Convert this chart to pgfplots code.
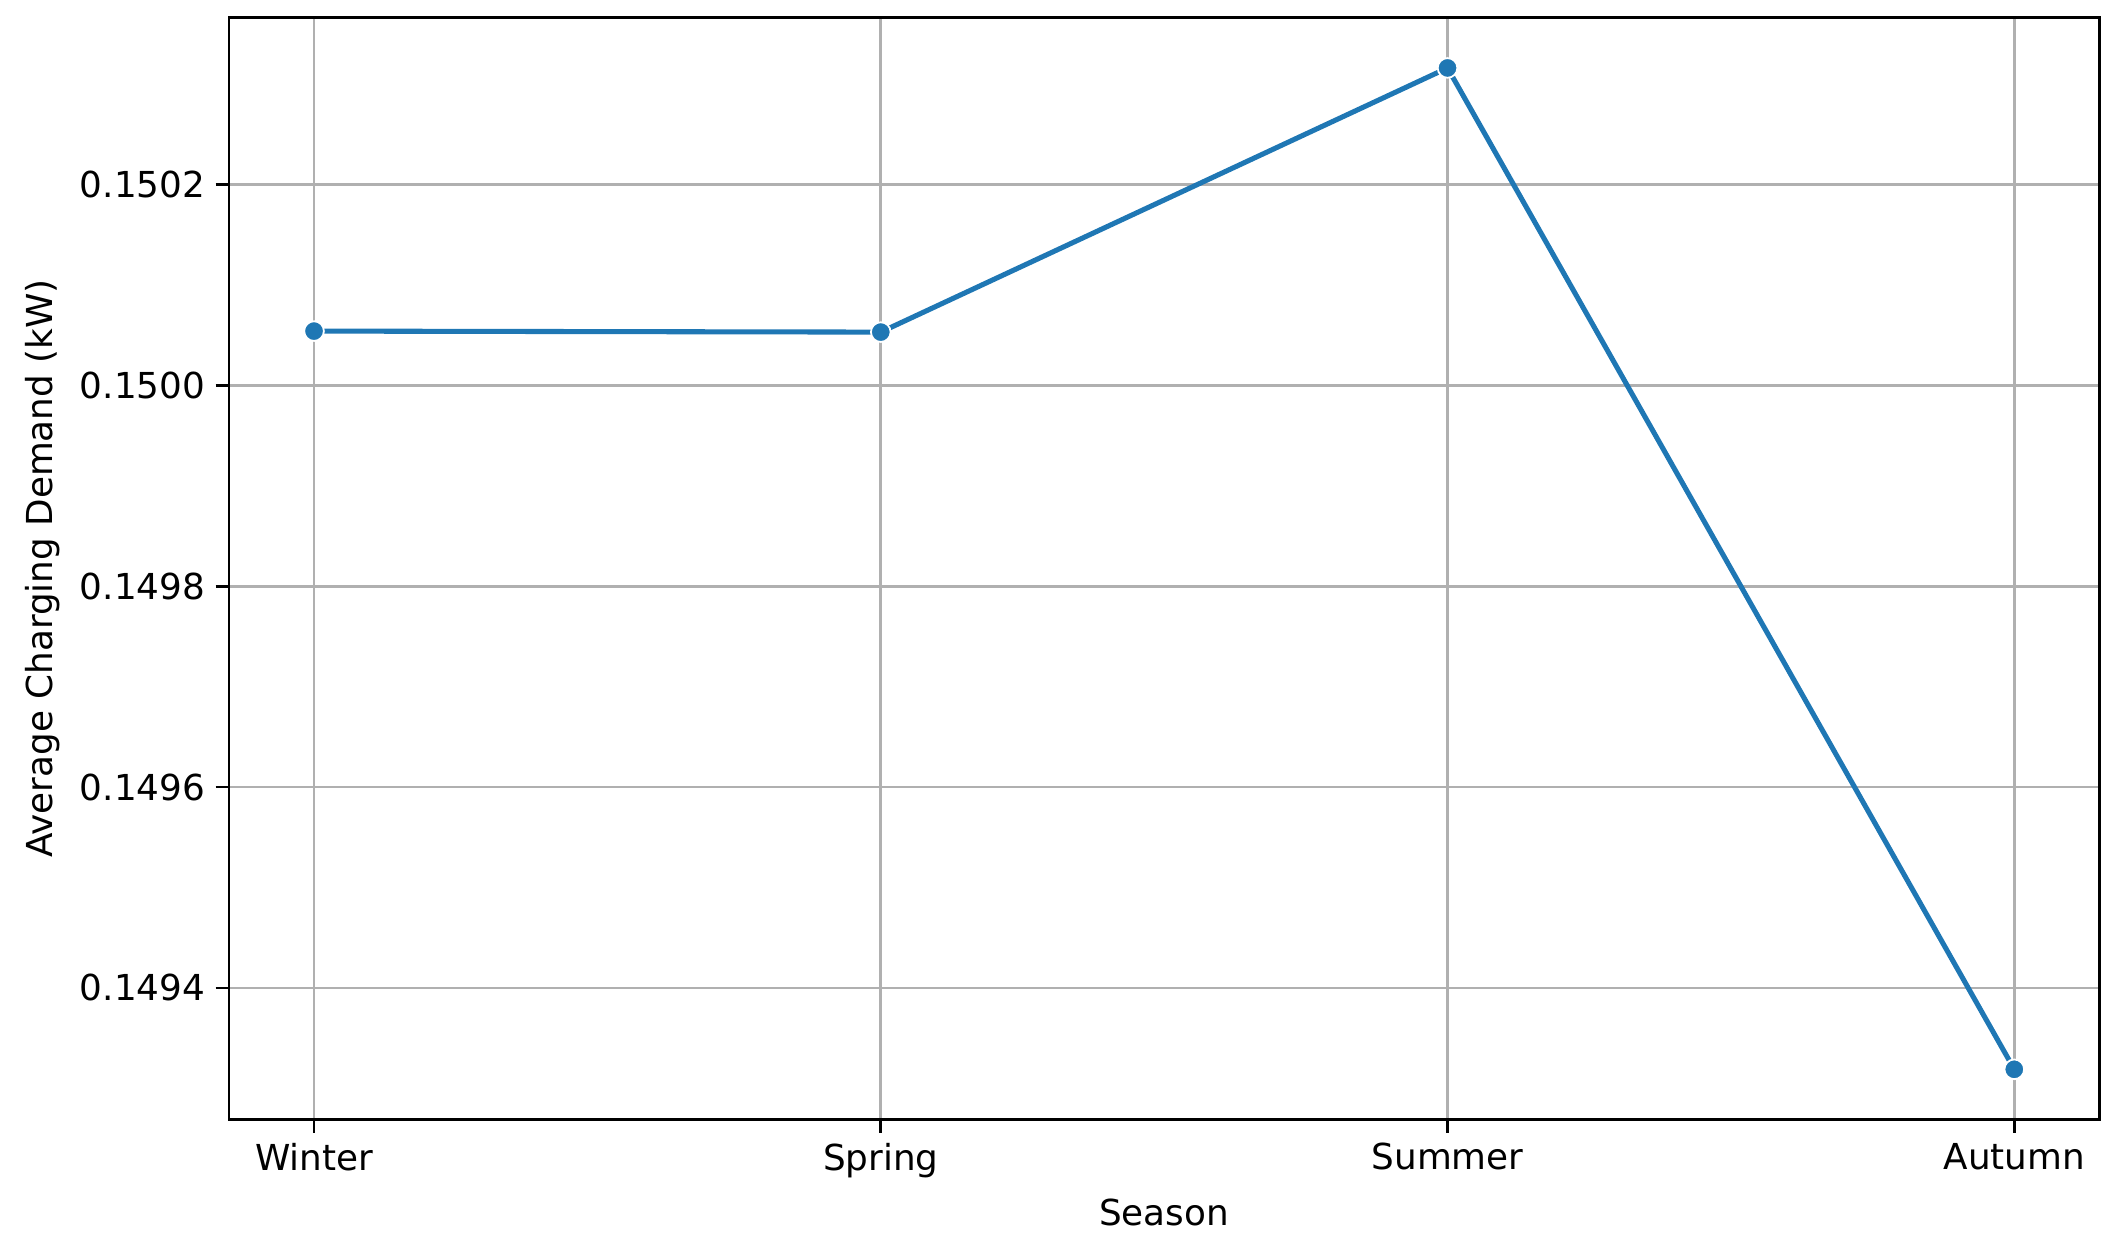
\documentclass[border=0pt]{standalone}
\usepackage{pgfplots}
\pgfplotsset{compat=1.18}
\usepackage{fontspec}
\setmainfont{DejaVu Sans}
\definecolor{mplblue}{RGB}{31,119,180}
\definecolor{gridgray}{RGB}{176,176,176}
\begin{document}
\begin{tikzpicture}
\begin{axis}[
    width=22.05cm, height=12.99cm,
    scale only axis,
    xmin=-0.15, xmax=3.15,
    ymin=0.149269, ymax=0.150366,
    xtick={0,1,2,3},
    xticklabels={Winter, Spring, Summer, Autumn},
    ytick={0.1494,0.1496,0.1498,0.1500,0.1502},
    xtick pos=left, ytick pos=left,
    scaled y ticks=false,
    yticklabel style={/pgf/number format/.cd, fixed, fixed zerofill, precision=4},
    /pgf/number format/assume math mode=true,
    grid=major,
    major grid style={gridgray, line width=0.9pt},
    tick align=outside,
    major tick length=4.5pt,
    tick style={black, line width=0.9pt},
    axis line style={black, line width=0.9pt},
    ticklabel style={font=\fontsize{12}{14}\selectfont},
    label style={font=\fontsize{12}{14}\selectfont},
    xlabel={Season},
    ylabel={Average Charging Demand (kW)},
    clip=false,
]
\addplot[color=mplblue, line width=1.7pt, mark=*, mark size=3.3pt,
    mark options={fill=mplblue, draw=white, line width=0.6pt}]
coordinates {
    (0, 0.150054)
    (1, 0.150053)
    (2, 0.150316)
    (3, 0.149319)
};
\end{axis}
% white margin like the saved figure
\path ([shift={(-5pt,-4pt)}]current bounding box.south west)
      ([shift={(6.5pt,5.5pt)}]current bounding box.north east);
\end{tikzpicture}
\end{document}
